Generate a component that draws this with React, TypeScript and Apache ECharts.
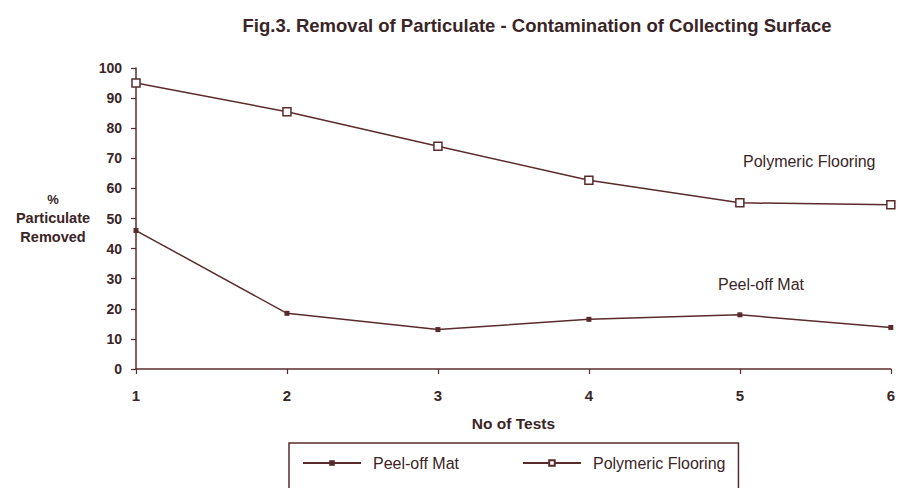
import React, { useEffect, useRef } from "react";
import * as echarts from "echarts";

const tests = [1, 2, 3, 4, 5, 6];
const peelOffMat = [46, 18.5, 13.1, 16.5, 18, 13.8];
const polymericFlooring = [95, 85.5, 74, 62.7, 55.2, 54.6];
const yTicks = { min: 0, max: 100, interval: 10 };
const titleText = "Fig.3. Removal of Particulate - Contamination of Collecting Surface";
const yNameLines = ["%", "Particulate", "Removed"];
const xName = "No of Tests";
const seriesNames = ["Peel-off Mat", "Polymeric Flooring"];

const INK = "#5a2b2d";
const TEXT = "#3a2526";
const FONT = "'Liberation Sans', Arial, sans-serif";

export default function App() {
  const ref = useRef<HTMLDivElement>(null);
  useEffect(() => {
    if (!ref.current) return;
    const chart = echarts.init(ref.current, null, { renderer: "svg" });
    const pairs = (ys: number[]) => tests.map((x, i) => [x, ys[i]]);
    chart.setOption({
      animation: false,
      backgroundColor: "#ffffff",
      textStyle: { fontFamily: FONT, color: TEXT },
      title: {
        text: titleText,
        left: 532,
        top: 11,
        textAlign: "center",
        textStyle: { fontSize: 18.5, fontWeight: "bold", color: TEXT, fontFamily: FONT },
      },
      grid: { left: 136, right: 5, top: 68, bottom: 119, containLabel: false },
      xAxis: {
        type: "value",
        min: 1,
        max: 6,
        interval: 1,
        name: xName,
        nameLocation: "middle",
        nameGap: 46,
        nameTextStyle: { fontSize: 15.5, fontWeight: "bold", color: TEXT },
        axisLine: { show: true, lineStyle: { color: INK, width: 1.5 } },
        axisTick: { show: true, inside: false, length: 5, lineStyle: { color: INK, width: 1.2 } },
        axisLabel: { fontSize: 15, fontWeight: "bold", color: TEXT, margin: 19 },
        splitLine: { show: false },
      },
      yAxis: {
        type: "value",
        min: yTicks.min,
        max: yTicks.max,
        interval: yTicks.interval,
        axisLine: { show: true, lineStyle: { color: INK, width: 1.5 } },
        axisTick: { show: true, inside: false, length: 5, lineStyle: { color: INK, width: 1.2 } },
        axisLabel: { fontSize: 14, fontWeight: "bold", color: TEXT, margin: 14 },
        splitLine: { show: false },
      },
      legend: {
        data: seriesNames,
        left: 289,
        top: 443,
        padding: [12, 13, 30, 13],
        borderColor: INK,
        borderWidth: 1.5,
        itemGap: 63,
        itemWidth: 58,
        itemHeight: 7,
        textStyle: { fontSize: 16, color: TEXT, padding: [0, 0, 0, 7] },
      },
      graphic: [
        ...yNameLines.map((t, i) => ({
          type: "text",
          x: 53,
          y: 199 + i * 19,
          style: {
            text: t,
            fill: TEXT,
            font: `bold ${i === 0 ? 13 : 14.5}px ${FONT}`,
            textAlign: "center",
            textVerticalAlign: "middle",
          },
        })),
        {
          type: "text",
          x: 743,
          y: 161,
          style: { text: seriesNames[1], fill: TEXT, font: `16px ${FONT}`, textVerticalAlign: "middle" },
        },
        {
          type: "text",
          x: 718,
          y: 284,
          style: { text: seriesNames[0], fill: TEXT, font: `16px ${FONT}`, textVerticalAlign: "middle" },
        },
      ],
      series: [
        {
          name: seriesNames[0],
          type: "line",
          data: pairs(peelOffMat),
          symbol: "rect",
          symbolSize: 5,
          lineStyle: { color: INK, width: 1.5 },
          itemStyle: { color: INK, borderColor: INK, borderWidth: 0 },
        },
        {
          name: seriesNames[1],
          type: "line",
          data: pairs(polymericFlooring),
          symbol: "rect",
          symbolSize: 8,
          lineStyle: { color: INK, width: 1.5 },
          itemStyle: { color: "#ffffff", borderColor: INK, borderWidth: 1.5 },
        },
      ],
    });
    return () => chart.dispose();
  }, []);
  return <div ref={ref} style={{ width: 898, height: 488, position: "absolute", left: 0, top: 0 }} />;
}
